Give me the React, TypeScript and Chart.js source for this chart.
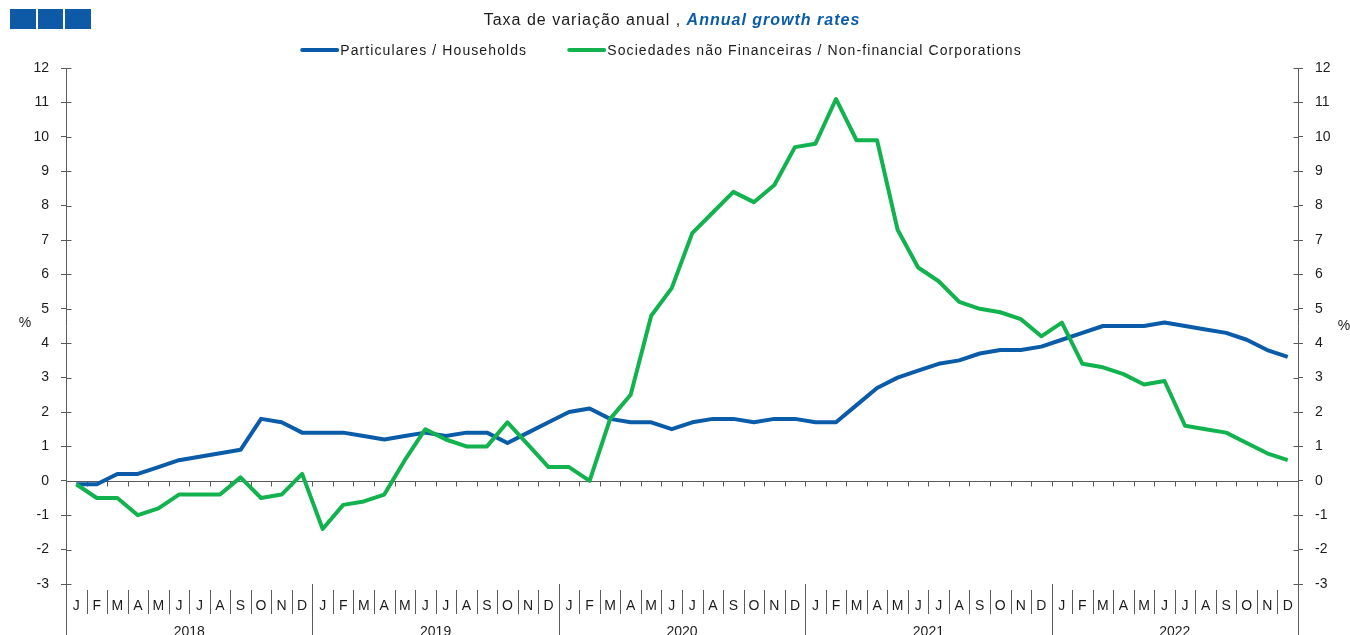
import React, { useEffect, useRef } from "react";
import { Chart, registerables } from "chart.js";

Chart.register(...registerables);

// ---------- data ----------
const years = ["2018", "2019", "2020", "2021", "2022"];
const monthLetters = ["J", "F", "M", "A", "M", "J", "J", "A", "S", "O", "N", "D"];

const households = [
  -0.1, -0.1, 0.2, 0.2, 0.4, 0.6, 0.7, 0.8, 0.9, 1.8, 1.7, 1.4,
  1.4, 1.4, 1.3, 1.2, 1.3, 1.4, 1.3, 1.4, 1.4, 1.1, 1.4, 1.7,
  2.0, 2.1, 1.8, 1.7, 1.7, 1.5, 1.7, 1.8, 1.8, 1.7, 1.8, 1.8,
  1.7, 1.7, 2.2, 2.7, 3.0, 3.2, 3.4, 3.5, 3.7, 3.8, 3.8, 3.9,
  4.1, 4.3, 4.5, 4.5, 4.5, 4.6, 4.5, 4.4, 4.3, 4.1, 3.8, 3.6,
];

const corporations = [
  -0.1, -0.5, -0.5, -1.0, -0.8, -0.4, -0.4, -0.4, 0.1, -0.5, -0.4, 0.2,
  -1.4, -0.7, -0.6, -0.4, 0.6, 1.5, 1.2, 1.0, 1.0, 1.7, 1.05, 0.4,
  0.4, 0.0, 1.8, 2.5, 4.8, 5.6, 7.2, 7.8, 8.4, 8.1, 8.6, 9.7,
  9.8, 11.1, 9.9, 9.9, 7.3, 6.2, 5.8, 5.2, 5.0, 4.9, 4.7, 4.2,
  4.6, 3.4, 3.3, 3.1, 2.8, 2.9, 1.6, 1.5, 1.4, 1.1, 0.8, 0.6,
];

const seriesNames = [
  "Particulares / Households",
  "Sociedades não Financeiras / Non-financial Corporations",
];
const titlePt = "Taxa de variação anual , ";
const titleEn = "Annual growth rates";
const unitLabel = "%";
const yMin = -3;
const yMax = 12;

// ---------- styles ----------
const BLUE = "#0B5CA8";
const GREEN = "#12B24F";
const AXIS = "#5a5a5a";
const TEXT = "#1c1c1c";
const FONT = '"Liberation Sans", Arial, Helvetica, sans-serif';

const labels: string[] = years.flatMap(() => monthLetters.slice());

const decorPlugin = {
  id: "decor",
  beforeDatasetsDraw(chart: any) {
    const { ctx, chartArea: ca, scales } = chart;
    const xs = scales.x;
    const ys = scales.y;
    const H = chart.height;
    ctx.save();
    ctx.strokeStyle = AXIS;
    ctx.lineWidth = 1;
    const y0 = Math.round(ys.getPixelForValue(0)) + 0.5;
    ctx.beginPath();
    ctx.moveTo(ca.left, y0);
    ctx.lineTo(ca.right, y0);
    const n = labels.length;
    for (let i = 1; i < n; i++) {
      const bx = Math.round((xs.getPixelForValue(i - 1) + xs.getPixelForValue(i)) / 2) + 0.5;
      // small ticks under zero line
      ctx.moveTo(bx, y0);
      ctx.lineTo(bx, y0 + 5);
      if (i % 12 === 0) {
        ctx.moveTo(bx, ca.bottom);
        ctx.lineTo(bx, H);
      } else {
        ctx.moveTo(bx, ca.bottom + 6);
        ctx.lineTo(bx, ca.bottom + 30);
      }
    }
    // extend side axes down to the bottom
    const lx = Math.round(ca.left) + 0.5;
    const rx = Math.round(ca.right) + 0.5;
    ctx.moveTo(lx, ca.bottom);
    ctx.lineTo(lx, H);
    ctx.moveTo(rx, ca.bottom);
    ctx.lineTo(rx, H);
    // inner half of the cross ticks
    for (let v = yMin; v <= yMax; v++) {
      const py = Math.round(ys.getPixelForValue(v)) + 0.5;
      ctx.moveTo(lx, py);
      ctx.lineTo(lx + 5, py);
      ctx.moveTo(rx - 5, py);
      ctx.lineTo(rx, py);
    }
    ctx.stroke();
    ctx.restore();
  },
  afterDraw(chart: any) {
    const { ctx, chartArea: ca, scales } = chart;
    const xs = scales.x;
    const W = chart.width;
    ctx.save();
    (ctx as any).letterSpacing = "1px";
    ctx.textBaseline = "middle";
    ctx.textAlign = "left";

    // subtitle
    ctx.font = `16px ${FONT}`;
    const w1 = ctx.measureText(titlePt).width;
    ctx.font = `italic bold 16px ${FONT}`;
    const w2 = ctx.measureText(titleEn).width;
    const tx = W / 2 - 3 - (w1 + w2) / 2;
    ctx.font = `16px ${FONT}`;
    ctx.fillStyle = TEXT;
    ctx.fillText(titlePt, tx, 21);
    ctx.font = `italic bold 16px ${FONT}`;
    ctx.fillStyle = BLUE;
    ctx.fillText(titleEn, tx + w1, 21);

    // legend
    (ctx as any).letterSpacing = "1.1px";
    ctx.font = `14px ${FONT}`;
    const sample = 38;
    const gapText = 2;
    const gapItems = 40;
    const lw = seriesNames.map((s) => ctx.measureText(s).width);
    const total =
      lw.reduce((a, b) => a + b, 0) +
      seriesNames.length * (sample + gapText) +
      gapItems * (seriesNames.length - 1);
    let lx = W / 2 - 14 - total / 2;
    const ly = 50;
    chart.data.datasets.forEach((ds: any, i: number) => {
      ctx.strokeStyle = ds.borderColor;
      ctx.lineWidth = 4;
      ctx.lineCap = "round";
      ctx.beginPath();
      ctx.moveTo(lx + 2, ly);
      ctx.lineTo(lx + sample - 1, ly);
      ctx.stroke();
      ctx.fillStyle = TEXT;
      ctx.fillText(ds.label, lx + sample + gapText, ly + 1);
      lx += sample + gapText + lw[i] + gapItems;
    });

    // unit labels
    (ctx as any).letterSpacing = "0px";
    ctx.font = `14px ${FONT}`;
    ctx.textAlign = "center";
    ctx.fillText(unitLabel, 25, 323);
    ctx.fillText(unitLabel, 1344, 326);

    // year labels
    ctx.textBaseline = "top";
    years.forEach((yr, k) => {
      const cx = (xs.getPixelForValue(k * 12) + xs.getPixelForValue(k * 12 + 11)) / 2;
      ctx.fillText(yr, cx, ca.bottom + 41);
    });
    ctx.restore();
  },
};

export default function App() {
  const ref = useRef<HTMLCanvasElement>(null);

  useEffect(() => {
    document.body.style.margin = "0";
    Chart.defaults.font.family = FONT;
    const yTickOpts = {
      min: yMin,
      max: yMax,
      ticks: { stepSize: 1, color: TEXT, font: { size: 14 }, padding: 12 },
      grid: { drawOnChartArea: false, tickLength: 5, color: AXIS },
      border: { display: true, color: AXIS },
    };
    const chart = new Chart(ref.current as HTMLCanvasElement, {
      type: "line",
      data: {
        labels,
        datasets: [
          {
            label: seriesNames[0],
            data: households,
            borderColor: BLUE,
            backgroundColor: BLUE,
            borderWidth: 4,
            pointRadius: 0,
            tension: 0,
            borderJoinStyle: "round",
            order: 1,
          },
          {
            label: seriesNames[1],
            data: corporations,
            borderColor: GREEN,
            backgroundColor: GREEN,
            borderWidth: 4,
            pointRadius: 0,
            tension: 0,
            borderJoinStyle: "round",
            order: 0,
          },
        ],
      },
      options: {
        animation: false,
        responsive: false,
        maintainAspectRatio: false,
        layout: { padding: { top: 68, left: 0, right: 0, bottom: 0 } },
        plugins: {
          legend: { display: false },
          tooltip: { enabled: false },
          title: { display: false },
        },
        scales: {
          x: {
            type: "category",
            offset: true,
            grid: { display: false },
            border: { display: false },
            ticks: {
              autoSkip: false,
              maxRotation: 0,
              minRotation: 0,
              color: TEXT,
              font: { size: 14 },
              padding: 6,
            },
            afterFit: (s: any) => {
              s.height = 51;
            },
          },
          y: {
            position: "left",
            ...yTickOpts,
            afterFit: (s: any) => {
              s.width = 66;
            },
          },
          y1: {
            position: "right",
            ...yTickOpts,
            afterFit: (s: any) => {
              s.width = 52;
            },
          },
        },
      } as any,
      plugins: [decorPlugin],
    });
    return () => chart.destroy();
  }, []);

  const squares = [10, 37.7, 65.3];
  return (
    <div style={{ position: "relative", width: 1350, height: 635, overflow: "hidden", background: "#fff" }}>
      <canvas ref={ref} width={1350} height={635} style={{ display: "block", width: 1350, height: 635 }} />
      {squares.map((l, i) => (
        <div
          key={i}
          style={{ position: "absolute", left: l, top: 9, width: 25.5, height: 20, background: "#0F5AA6" }}
        />
      ))}
    </div>
  );
}
